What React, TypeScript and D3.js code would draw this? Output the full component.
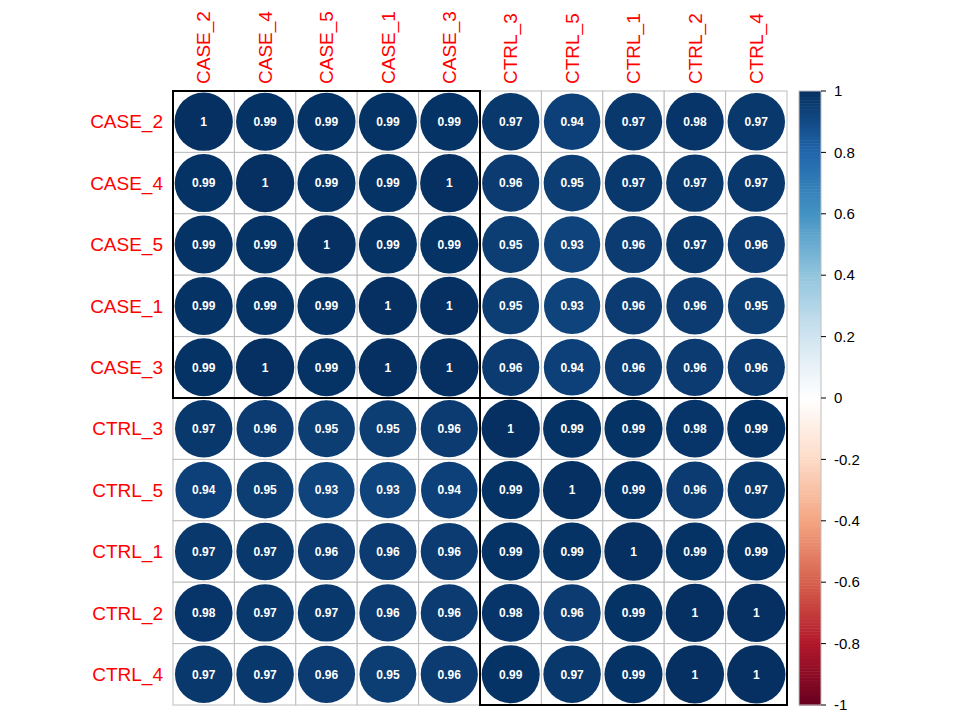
import React from 'react';
import * as d3 from 'd3';

const labels = ['CASE_2', 'CASE_4', 'CASE_5', 'CASE_1', 'CASE_3', 'CTRL_3', 'CTRL_5', 'CTRL_1', 'CTRL_2', 'CTRL_4'];

const corr = [
  [1, 0.99, 0.99, 0.99, 0.99, 0.97, 0.94, 0.97, 0.98, 0.97],
  [0.99, 1, 0.99, 0.99, 1, 0.96, 0.95, 0.97, 0.97, 0.97],
  [0.99, 0.99, 1, 0.99, 0.99, 0.95, 0.93, 0.96, 0.97, 0.96],
  [0.99, 0.99, 0.99, 1, 1, 0.95, 0.93, 0.96, 0.96, 0.95],
  [0.99, 1, 0.99, 1, 1, 0.96, 0.94, 0.96, 0.96, 0.96],
  [0.97, 0.96, 0.95, 0.95, 0.96, 1, 0.99, 0.99, 0.98, 0.99],
  [0.94, 0.95, 0.93, 0.93, 0.94, 0.99, 1, 0.99, 0.96, 0.97],
  [0.97, 0.97, 0.96, 0.96, 0.96, 0.99, 0.99, 1, 0.99, 0.99],
  [0.98, 0.97, 0.97, 0.96, 0.96, 0.98, 0.96, 0.99, 1, 1],
  [0.97, 0.97, 0.96, 0.95, 0.96, 0.99, 0.97, 0.99, 1, 1],
];

// cluster rectangles: [start, end) index ranges
const clusters = [[0, 5], [5, 10]];

const paletteStops = ['#67001F', '#B2182B', '#D6604D', '#F4A582', '#FDDBC7', '#FFFFFF', '#D1E5F0', '#92C5DE', '#4393C3', '#2166AC', '#053061'];
const legendTicks = [1, 0.8, 0.6, 0.4, 0.2, 0, -0.2, -0.4, -0.6, -0.8, -1];

const left = 173, top = 91, size = 614;
const color = d3.scaleLinear<string>().domain(d3.range(11).map(i => -1 + i * 0.2)).range(paletteStops).interpolate(d3.interpolateRgb);

export default function App() {
  const band = d3.scaleBand<number>().domain(d3.range(labels.length)).range([0, size]);
  const cs = band.bandwidth();
  const ly = d3.scaleLinear().domain([1, -1]).range([top, top + size]);
  const strip = d3.range(200).map(i => -1 + (i + 0.5) * 0.01);
  const font = 'Liberation Sans, Arial, sans-serif';

  return (
    <svg width={960} height={720} style={{ position: 'absolute', left: 0, top: 0, fontFamily: font }}>
      <rect width={960} height={720} fill="#fff" />
      <g transform={`translate(${left},${top})`}>
        {labels.map((_, r) => labels.map((_, c) => (
          <rect key={`g${r}-${c}`} x={band(c)} y={band(r)} width={cs} height={cs} fill="#fff" stroke="#BEBEBE" strokeWidth={1} />
        )))}
        {corr.map((row, r) => row.map((v, c) => {
          const cx = band(c)! + cs / 2, cy = band(r)! + cs / 2;
          return (
            <g key={`c${r}-${c}`}>
              <circle cx={cx} cy={cy} r={Math.sqrt(Math.abs(v)) * cs * 0.475} fill={color(v)} />
              <text x={cx} y={cy} dy="0.35em" textAnchor="middle" fill="#fff" fontSize={12} fontWeight="bold">{v === 1 ? '1' : String(v)}</text>
            </g>
          );
        }))}
        {clusters.map(([a, b], i) => (
          <rect key={`k${i}`} x={band(a)} y={band(a)} width={cs * (b - a)} height={cs * (b - a)} fill="none" stroke="#000" strokeWidth={2} />
        ))}
        {labels.map((l, i) => (
          <text key={`r${i}`} x={-10} y={band(i)! + cs / 2} dy="0.35em" textAnchor="end" fill="#FF0000" fontSize={19}>{l}</text>
        ))}
        {labels.map((l, i) => (
          <text key={`t${i}`} transform={`translate(${band(i)! + cs / 2},-7) rotate(-90)`} dy="0.35em" textAnchor="start" fill="#FF0000" fontSize={19}>{l}</text>
        ))}
      </g>
      <g>
        {strip.map((v, i) => (
          <rect key={`s${i}`} x={799} y={ly(v + 0.005)} width={22} height={ly(v - 0.005) - ly(v + 0.005) + 0.5} fill={color(v)} />
        ))}
        <rect x={799} y={top} width={22} height={size} fill="none" stroke="#BEBEBE" strokeWidth={1} />
        {legendTicks.map(t => (
          <g key={`l${t}`}>
            <line x1={821} x2={826} y1={ly(t)} y2={ly(t)} stroke="#000" />
            <text x={834} y={ly(t)} dy="0.35em" fontSize={15} fill="#000">{t}</text>
          </g>
        ))}
      </g>
    </svg>
  );
}
